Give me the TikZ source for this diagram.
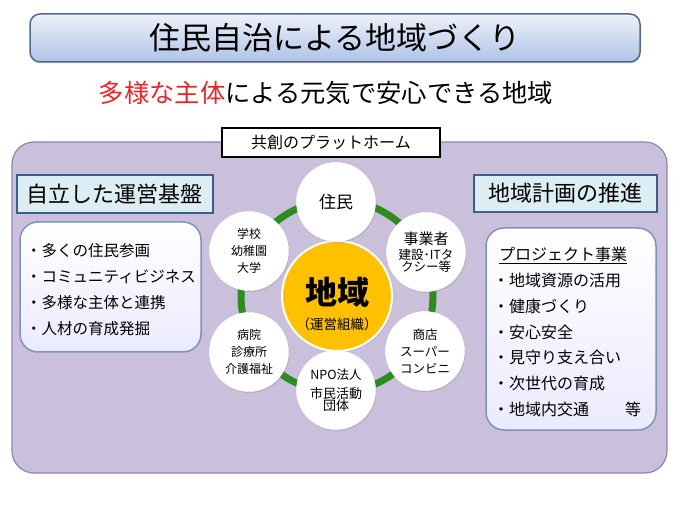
\documentclass[tikz,border=0pt]{standalone}
\usepackage{fontspec}
\setmainfont{Noto Sans CJK JP}
\usetikzlibrary{shadows}
\definecolor{titletop}{HTML}{EEF1FA}
\definecolor{titlebot}{HTML}{AFC3E6}
\definecolor{titleline}{HTML}{52698F}
\definecolor{platfill}{HTML}{CBC0DC}
\definecolor{platline}{HTML}{8E85AB}
\definecolor{headfill}{HTML}{DCEEF3}
\definecolor{headline}{HTML}{3B5E8C}
\definecolor{listline}{HTML}{7D93BF}
\definecolor{ringgreen}{HTML}{2E8B22}
\definecolor{hubgold}{HTML}{FFC000}
\definecolor{redtext}{HTML}{E8262A}
\newcommand{\fs}[2]{\fontsize{#1}{#2}\selectfont}
\begin{document}
\begin{tikzpicture}[x=1pt,y=-1pt,
  titlebox/.style={draw=titleline, line width=1.5pt, rounded corners=10pt, top color=titletop, bottom color=titlebot, inner sep=0pt},
  platbox/.style={draw=platline, line width=1.2pt, fill=platfill, rounded corners=22pt, inner sep=0pt},
  labelbox/.style={draw=black, line width=1.2pt, fill=white, inner sep=0pt},
  headbox/.style={draw=headline, line width=1.5pt, fill=headfill, inner sep=0pt},
  listbox/.style={draw=listline, line width=1.5pt, top color=white, bottom color=white!92!blue, rounded corners=18pt, inner sep=0pt},
  smallcirc/.style={circle, fill=white, draw=white, minimum size=79pt, inner sep=0pt, align=center,
     drop shadow={opacity=0.25, shadow xshift=1pt, shadow yshift=-1.5pt}},
  hubcirc/.style={circle, fill=hubgold, draw=white, line width=2pt, minimum size=110pt, inner sep=0pt, align=center,
     drop shadow={opacity=0.25, shadow xshift=1pt, shadow yshift=-1.5pt}},
  ring/.style={draw=ringgreen, line width=7pt}
]
\useasboundingbox (0,0) rectangle (680,510);

% title
\node[titlebox, minimum width=610pt, minimum height=48pt,
      drop shadow={opacity=0.2, shadow xshift=1pt, shadow yshift=-1.5pt}] (title) at (335,38) {};
\node[font=\fs{31}{34}] (titletext) at (title.center) {住民自治による地域づくり};

% subtitle
\node[font=\fs{25.3}{28}] (subtitle) at (326,93) {\textcolor{redtext}{多様な主体}による元気で安心できる地域};

% platform
\node[platbox, minimum width=655pt, minimum height=331pt] (plat) at (339.5,307.5) {};
\node[labelbox, minimum width=218pt, minimum height=29pt, font=\fs{16}{18}] (plabel) at (331,142.5) {共創のプラットホーム};

% left
\node[headbox, minimum width=196pt, minimum height=38pt, font=\fs{22}{24}] (lhead) at (115,194) {自立した運営基盤};
\node[listbox, minimum width=181pt, minimum height=130pt] (llist) at (110.5,287) {};
\node[align=left, anchor=north west, inner sep=0pt, font=\fs{15.5}{26}] (ltext) at (26,243)
  {・多くの住民参画\\・コミュニティビジネス\\・多様な主体と連携\\・人材の育成発掘};

% right
\node[headbox, minimum width=183pt, minimum height=37pt, font=\fs{22}{24}] (rhead) at (565.5,193.5) {地域計画の推進};
\node[listbox, minimum width=170pt, minimum height=202pt] (rlist) at (571,329) {};
\node[align=left, anchor=north west, inner sep=0pt, text width=148pt, font=\fs{16}{25.8}] (rtext) at (493,247)
  {\hspace*{6pt}\underline{プロジェクト事業}\\・地域資源の活用\\・健康づくり\\・安心安全\\・見守り支え合い\\・次世代の育成\\・地域内交通\hfill 等};

% ring and hub
\coordinate (hubc) at (337,296);
\draw[ring] (hubc) circle (96pt);
\node[hubcirc] (hub) at (hubc) {};
\node[align=center, inner sep=0pt] (hubtext) at ([yshift=-8pt]hub.center)
  {\fs{32}{34}\bfseries 地域\\[10pt]\fs{13.5}{16}（運営組織）};

\node[smallcirc, font=\fs{17}{20}] (jumin) at (336,202) {住民};
\node[smallcirc] (jigyo) at (426,252) {\fs{15}{18}事業者\\[3pt]\fs{12.5}{12}建設･ITタ\\\fs{12.5}{12}クシー等};
\node[smallcirc, font=\fs{12.5}{17}] (shoten) at (425,351) {商店\\スーパー\\コンビニ};
\node[smallcirc] (npo) at (336,390) {\fs{12.5}{16}NPO法人\\[6pt]\fs{13}{12}市民活動\\\fs{13}{12}団体};
\node[smallcirc, font=\fs{12}{17}] (byoin) at (249,352) {病院\\診療所\\介護福祉};
\node[smallcirc, font=\fs{12}{17}] (gakko) at (249,251) {学校\\幼稚園\\大学};
\end{tikzpicture}
\end{document}
